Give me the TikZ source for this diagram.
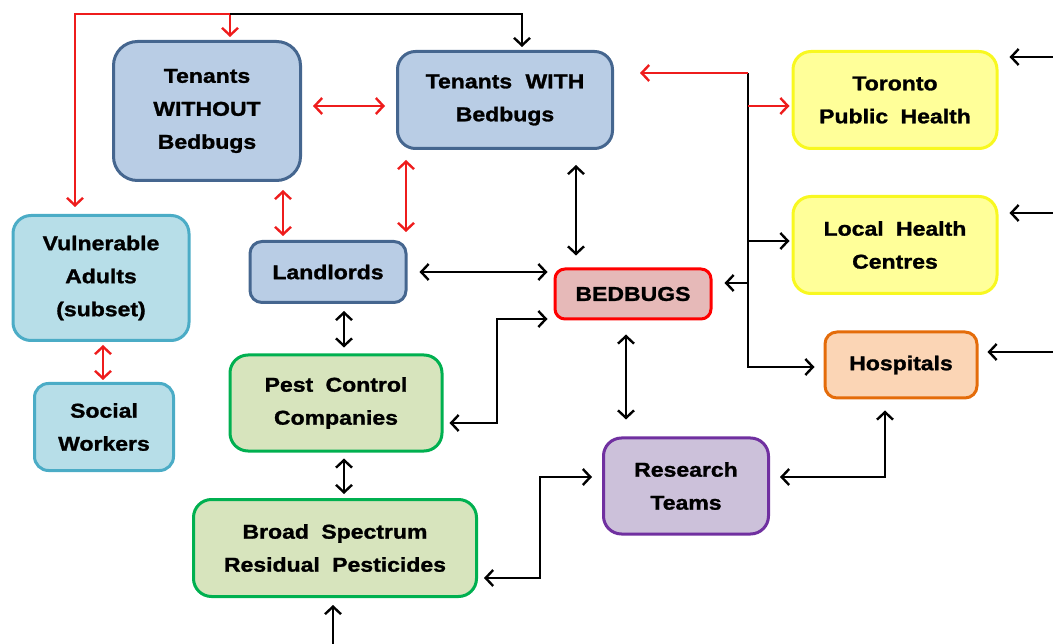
\documentclass[tikz,border=0pt]{standalone}
\usepackage{fontspec}
\newfontfamily\lbl[FakeStretch=1.15,FakeBold=1.3]{Liberation Sans Bold}
\usetikzlibrary{arrows.meta,calc}
\definecolor{bluefill}{HTML}{B9CDE5}
\definecolor{bluedraw}{HTML}{45668F}
\definecolor{cyanfill}{HTML}{B7DEE8}
\definecolor{cyandraw}{HTML}{4BACC6}
\definecolor{yelfill}{HTML}{FFFF99}
\definecolor{yeldraw}{HTML}{F8F820}
\definecolor{orfill}{HTML}{FBD5B5}
\definecolor{ordraw}{HTML}{E46C0A}
\definecolor{bedfill}{HTML}{E6B9B8}
\definecolor{beddraw}{HTML}{FF0000}
\definecolor{grfill}{HTML}{D7E4BD}
\definecolor{grdraw}{HTML}{00B050}
\definecolor{pufill}{HTML}{CCC1DA}
\definecolor{pudraw}{HTML}{7030A0}
\definecolor{redln}{HTML}{EE1C1C}
\tikzset{
  box/.style={draw, line width=3pt, rounded corners=18pt, align=center, inner sep=0pt,
    font=\lbl\fontsize{20}{33}\selectfont},
  bluebox/.style={box, fill=bluefill, draw=bluedraw},
  cyanbox/.style={box, fill=cyanfill, draw=cyandraw},
  yelbox/.style={box, fill=yelfill, draw=yeldraw},
  orbox/.style={box, fill=orfill, draw=ordraw, rounded corners=12pt},
  bedbox/.style={box, fill=bedfill, draw=beddraw, rounded corners=10pt},
  grbox/.style={box, fill=grfill, draw=grdraw},
  pubox/.style={box, fill=pufill, draw=pudraw},
  >={Straight Barb[length=7.5pt,width=16pt]},
  blk/.style={line width=2.4pt, black},
  rd/.style={line width=2.4pt, redln},
}
\begin{document}
\begin{tikzpicture}[x=1pt,y=-1pt]
\useasboundingbox (0,0) rectangle (1053,644);
% nodes
\node[bluebox, minimum width=187pt, minimum height=139pt, rounded corners=24pt] (TW) at (207,111) {Tenants\\WITHOUT\\Bedbugs};
\node[bluebox, minimum width=215pt, minimum height=97pt] (TB) at (505,100) {Tenants\hspace{0.35em} WITH\\Bedbugs};
\node[yelbox, minimum width=204pt, minimum height=97pt] (TPH) at (895,100) {Toronto\\Public\hspace{0.3em} Health};
\node[yelbox, minimum width=204pt, minimum height=97pt] (LHC) at (895,245) {Local\hspace{0.3em} Health\\Centres};
\node[orbox, minimum width=152pt, minimum height=66pt] (HOS) at (901,365) {Hospitals};
\node[bedbox, minimum width=156pt, minimum height=50pt] (BED) at (633,294) {BEDBUGS};
\node[bluebox, minimum width=156pt, minimum height=61pt, rounded corners=12pt] (LAN) at (328,272) {Landlords};
\node[cyanbox, minimum width=176pt, minimum height=125pt] (VA) at (101,278) {Vulnerable\\Adults\\(subset)};
\node[cyanbox, minimum width=139pt, minimum height=87pt, rounded corners=14pt] (SW) at (104,427) {Social\\Workers};
\node[grbox, minimum width=212pt, minimum height=96pt] (PC) at (336,403) {Pest\hspace{0.3em} Control\\Companies};
\node[grbox, minimum width=283pt, minimum height=97pt] (BS) at (335,548) {Broad\hspace{0.3em} Spectrum\\Residual\hspace{0.3em} Pesticides};
\node[pubox, minimum width=165pt, minimum height=96pt] (RT) at (686,486) {Research\\Teams};
% free ends
\coordinate (topL) at (75,14);
\coordinate (topM) at (230,14);
\coordinate (topR) at (522,14);
\coordinate (bot) at (333,644);
\coordinate (r1) at (1053,57);
\coordinate (r2) at (1053,213);
\coordinate (r3) at (1053,352);
\coordinate (trT) at (748,73);
\coordinate (trB) at (748,367);
% top connectors
\draw[rd,->, shorten >=7pt] (topM) -- (topL) -- (topL |- VA.north);
\draw[rd,->, shorten >=3pt] (topM) -- (topM |- TW.north);
\draw[blk,->, shorten >=3pt] (topM) -- (topR) -- (topR |- TB.north);
% red double arrows
\draw[rd,<->, shorten <=11pt, shorten >=11pt] (TW.east |- 0,106) -- (TB.west |- 0,106);
\draw[rd,<->, shorten <=8pt, shorten >=4pt] (283,0 |- TW.south) -- (283,0 |- LAN.north);
\draw[rd,<->, shorten <=10pt, shorten >=8pt] (406,0 |- TB.south) -- (406,0 |- LAN.north);
\draw[rd,<->, shorten <=3pt, shorten >=2pt] (103,0 |- VA.south) -- (103,0 |- SW.north);
% black double arrows
\draw[blk,<->, shorten <=15pt, shorten >=12pt] (576,0 |- TB.south) -- (576,0 |- BED.north);
\draw[blk,<->, shorten <=12pt, shorten >=6pt] (LAN.east |- 0,272) -- (BED.west |- 0,272);
\draw[blk,<->, shorten <=7pt, shorten >=6pt] (344,0 |- LAN.south) -- (344,0 |- PC.north);
\draw[blk,<->, shorten <=6pt, shorten >=4pt] (344,0 |- PC.south) -- (344,0 |- BS.north);
\draw[blk,<->, shorten <=6pt, shorten >=6pt] (PC.east |- 0,423) -- (497,423) -- (497,319) -- (BED.west |- 0,319);
\draw[blk,<->, shorten <=14pt, shorten >=17pt] (626,0 |- BED.south) -- (626,0 |- RT.north);
\draw[blk,<->, shorten <=6pt, shorten >=10pt] (BS.east |- 0,578) -- (540,578) -- (540,477) -- (RT.west |- 0,477);
\draw[blk,<->, shorten <=10pt, shorten >=11pt] (RT.east |- 0,477) -- (885,477) -- (885,0 |- HOS.south);
% bottom and right incoming
\draw[blk,->, shorten >=7pt] (bot) -- (bot |- BS.south);
\draw[blk,->, shorten >=11pt] (r1) -- (TPH.east |- r1);
\draw[blk,->, shorten >=11pt] (r2) -- (LHC.east |- r2);
\draw[blk,->, shorten >=9pt] (r3) -- (HOS.east |- r3);
% trunk
\draw[blk,->, shorten >=9pt] (trT) -- (trB) -- (HOS.west |- trB);
\draw[rd,->, shorten >=26pt] (trT) -- (TB.east |- trT);
\draw[rd,->, shorten >=2pt] (748,106) -- (TPH.west |- 0,106);
\draw[blk,->, shorten >=2pt] (748,241) -- (LHC.west |- 0,241);
\draw[blk,->, shorten >=12pt] (748,283) -- (BED.east |- 0,283);
\end{tikzpicture}
\end{document}
